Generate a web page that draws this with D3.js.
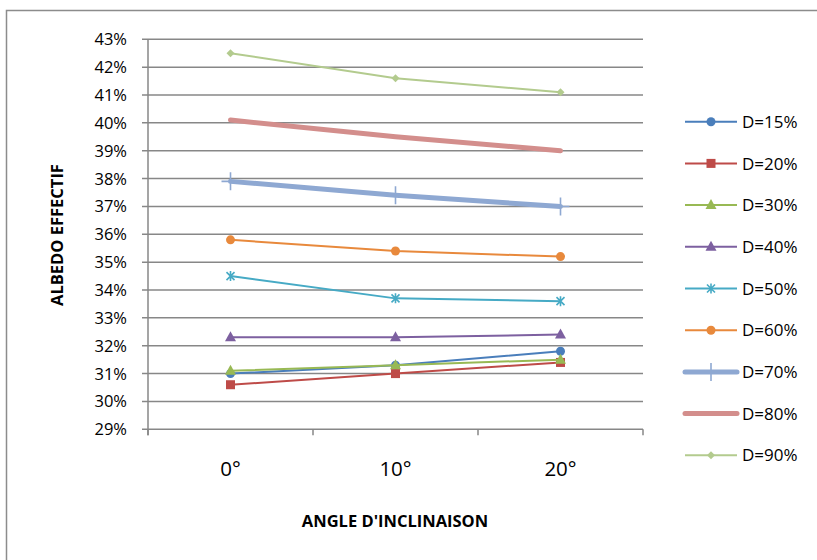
<!DOCTYPE html>
<html><head><meta charset="utf-8">
<script src="https://cdn.jsdelivr.net/npm/d3@7"></script>
<style>body{margin:0;background:#fff;} svg{display:block;font-family:"Open Sans",sans-serif;}</style>
</head><body>
<svg id="c" width="817" height="560"></svg>
<script>
const categories = ["0°", "10°", "20°"];
const seriesNames = ["D=15%","D=20%","D=30%","D=40%","D=50%","D=60%","D=70%","D=80%","D=90%"];
const d15 = [31.0, 31.3, 31.8];
const d20 = [30.6, 31.0, 31.4];
const d30 = [31.1, 31.3, 31.5];
const d40 = [32.3, 32.3, 32.4];
const d50 = [34.5, 33.7, 33.6];
const d60 = [35.8, 35.4, 35.2];
const d70 = [37.9, 37.4, 37.0];
const d80 = [40.1, 39.5, 39.0];
const d90 = [42.5, 41.6, 41.1];
const yTicks = [29,30,31,32,33,34,35,36,37,38,39,40,41,42,43];

const seriesValues = [d15,d20,d30,d40,d50,d60,d70,d80,d90];
const styles = [
  {color:"#4A7EBB", w:2, m:"circle"},
  {color:"#BE4B48", w:2, m:"square"},
  {color:"#98B954", w:2, m:"triangle"},
  {color:"#7D60A0", w:2, m:"triangle"},
  {color:"#46AAC5", w:2, m:"star"},
  {color:"#E8893C", w:2, m:"circle"},
  {color:"#8EA8D2", w:5, m:"plus"},
  {color:"#D38E8C", w:5, m:"none"},
  {color:"#B3CB8E", w:2, m:"diamond"}
];

const svg = d3.select("#c");
svg.append("rect").attr("x",6.5).attr("y",10.5).attr("width",830).attr("height",570)
  .attr("fill","none").attr("stroke","#8c8c8c").attr("stroke-width",1.5);

const L=148, R=643, T=39.3, B=429.3;
const x = d3.scaleBand().domain(categories).range([L,R]);
const y = d3.scaleLinear().domain([29,43]).range([B,T]);

// gridlines
svg.append("g").selectAll("line").data(yTicks).join("line")
  .attr("x1",L-6).attr("x2",R).attr("y1",d=>y(d)).attr("y2",d=>y(d))
  .attr("stroke","#878787").attr("stroke-width",1.5);
// y axis line
svg.append("line").attr("x1",L).attr("x2",L).attr("y1",T).attr("y2",B+6)
  .attr("stroke","#878787").attr("stroke-width",1.5);
// x ticks
const xt = [L, ...categories.map(c=>x(c)+x.bandwidth())];
svg.append("g").selectAll("line").data(xt).join("line")
  .attr("x1",d=>d).attr("x2",d=>d).attr("y1",B).attr("y2",B+6)
  .attr("stroke","#878787").attr("stroke-width",1.5);

// y labels
svg.append("g").selectAll("text").data(yTicks).join("text")
  .attr("x",127).attr("y",d=>y(d)).attr("dy","0.36em").attr("text-anchor","end")
  .attr("font-size",16.5).attr("fill","#000").text(d=>d+"%");
// x labels
svg.append("g").selectAll("text").data(categories).join("text")
  .attr("x",d=>x(d)+x.bandwidth()/2).attr("y",469).attr("dy","0.36em").attr("text-anchor","middle")
  .attr("font-size",20.5).attr("fill","#000").text(d=>d);
// axis titles
svg.append("text").attr("x",395).attr("y",521).attr("dy","0.36em").attr("text-anchor","middle")
  .attr("font-size",16.5).attr("font-weight","bold").text("ANGLE D'INCLINAISON");
svg.append("text").attr("transform","translate(57,235) rotate(-90)").attr("dy","0.36em").attr("text-anchor","middle")
  .attr("font-size",16.5).attr("font-weight","bold").text("ALBEDO EFFECTIF");

function marker(g, type, color, cx, cy){
  if(type==="circle") g.append("circle").attr("cx",cx).attr("cy",cy).attr("r",4.5).attr("fill",color);
  else if(type==="square") g.append("rect").attr("x",cx-4.5).attr("y",cy-4.5).attr("width",9).attr("height",9).attr("fill",color);
  else if(type==="triangle") g.append("path").attr("d",`M${cx},${cy-6}L${cx+5.5},${cy+4}L${cx-5.5},${cy+4}Z`).attr("fill",color);
  else if(type==="diamond") g.append("path").attr("d",`M${cx},${cy-4}L${cx+4},${cy}L${cx},${cy+4}L${cx-4},${cy}Z`).attr("fill",color);
  else if(type==="star") g.append("path").attr("d",`M${cx-4},${cy-4}L${cx+4},${cy+4}M${cx-4},${cy+4}L${cx+4},${cy-4}M${cx},${cy-5}L${cx},${cy+5}`).attr("stroke",color).attr("stroke-width",1.6).attr("fill","none");
  else if(type==="plus") g.append("path").attr("d",`M${cx},${cy-9}L${cx},${cy+9}M${cx-9},${cy}L${cx+9},${cy}`).attr("stroke",color).attr("stroke-width",1.6).attr("fill","none");
}

const line = d3.line().x((d,i)=>x(categories[i])+x.bandwidth()/2).y(d=>y(d));
seriesValues.forEach((vals,si)=>{
  const s = styles[si];
  const g = svg.append("g");
  g.append("path").datum(vals).attr("d",line).attr("fill","none").attr("stroke",s.color)
    .attr("stroke-width",s.w).attr("stroke-linecap", s.w>3?"round":"butt");
  vals.forEach((v,i)=>marker(g, s.m, s.color, x(categories[i])+x.bandwidth()/2, y(v)));
});

// legend
const leg = svg.append("g");
seriesNames.forEach((n,i)=>{
  const s = styles[i];
  const cy = 121.7 + i*41.7;
  const g = leg.append("g");
  g.append("line").attr("x1",685).attr("x2",737).attr("y1",cy).attr("y2",cy)
    .attr("stroke",s.color).attr("stroke-width",s.w).attr("stroke-linecap", s.w>3?"round":"butt");
  marker(g, s.m, s.color, 711, cy);
  g.append("text").attr("x",742).attr("y",cy).attr("dy","0.36em").attr("font-size",17).text(n);
});
</script>
</body></html>
